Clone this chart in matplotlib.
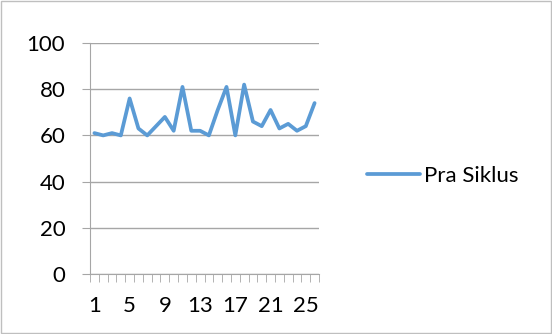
import numpy as np
import matplotlib.pyplot as plt
from matplotlib.patches import Rectangle

# Pra Siklus scores per student
students = list(range(1, 27))
scores = [61, 60, 61, 60, 76, 63, 60, 64, 68, 62, 81, 62, 62, 60, 71, 81,
          60, 82, 66, 64, 71, 63, 65, 62, 64, 74]
y_ticks = [0, 20, 40, 60, 80, 100]

LINE = '#5B9BD5'
GRID = '#A6A6A6'
W, H = 552, 334
FS = 16

plt.rcParams['font.family'] = ['Lato', 'DejaVu Sans']

fig = plt.figure(figsize=(W / 100, H / 100), dpi=100)
ax = fig.add_axes([90 / W, 1 - 274 / H, 229 / W, 231 / H])

# category axis: points sit in the middle of each slot
pos = np.arange(len(students))
ax.plot(pos, scores, color=LINE, linewidth=2.7, solid_joinstyle='round',
        solid_capstyle='round', label='Pra Siklus')

ax.set_xlim(-0.5, len(students) - 0.5)
ax.set_ylim(0, 100)
ax.set_yticks(y_ticks)
ax.set_yticklabels([str(v) for v in y_ticks], fontsize=FS)
ax.grid(axis='y', color=GRID, linewidth=1)
ax.set_axisbelow(True)

# labels on every 4th category, tick marks on slot boundaries
ax.set_xticks(pos[::4])
ax.set_xticklabels([str(s) for s in students[::4]], fontsize=FS)
ax.tick_params(axis='x', length=0, pad=16)
ax.set_xticks(np.arange(len(students) + 1) - 0.5, minor=True)
ax.tick_params(axis='x', which='minor', length=5.8, color=GRID, direction='out')
ax.tick_params(axis='y', length=5.8, color=GRID, pad=12)

for side in ['top', 'right']:
    ax.spines[side].set_visible(False)
for side in ['left', 'bottom']:
    ax.spines[side].set_color(GRID)

fig.legend(handles=ax.get_lines(), loc='center left',
           bbox_to_anchor=(367 / W, 1 - 176 / H), bbox_transform=fig.transFigure,
           frameon=False, fontsize=FS, handlelength=2.4, handletextpad=0.15,
           borderpad=0, borderaxespad=0)

# chart area border
fig.patches.append(Rectangle((0.002, 0.003), 0.996, 0.994, transform=fig.transFigure,
                             fill=False, edgecolor='#BFBFBF', linewidth=1))

fig.savefig('out.png', dpi=100)
